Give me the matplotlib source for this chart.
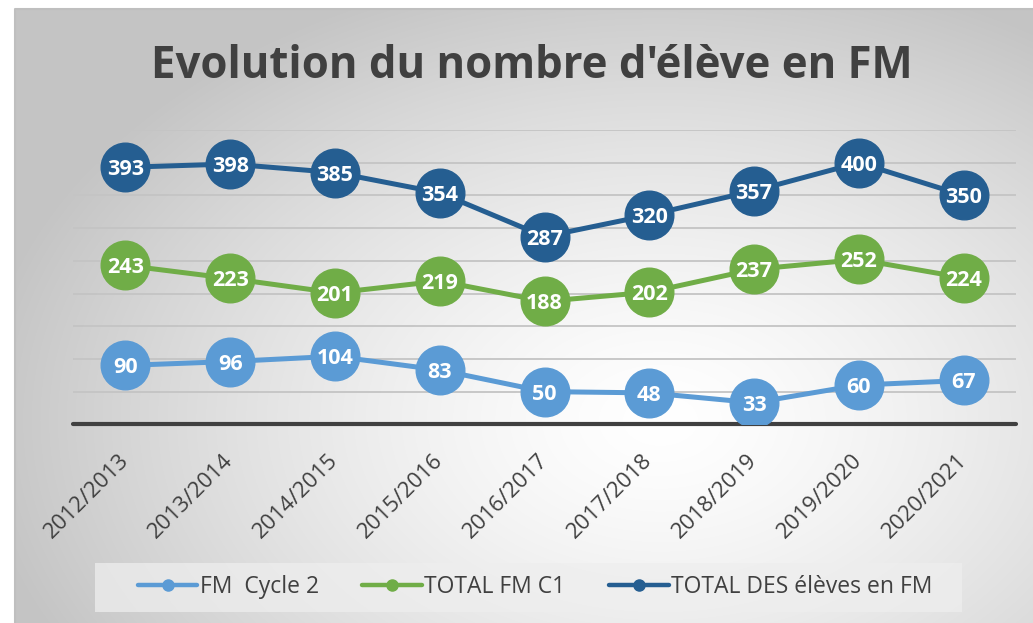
import numpy as np
import matplotlib
matplotlib.use("Agg")
import matplotlib.pyplot as plt
from matplotlib.lines import Line2D
from matplotlib.patches import Rectangle

plt.rcParams['font.family'] = ['Open Sans', 'DejaVu Sans']

# data
years = ['2012/2013', '2013/2014', '2014/2015', '2015/2016', '2016/2017',
         '2017/2018', '2018/2019', '2019/2020', '2020/2021']
fm_cycle2 = [90, 96, 104, 83, 50, 48, 33, 60, 67]
total_fm_c1 = [243, 223, 201, 219, 188, 202, 237, 252, 224]
total_eleves = [393, 398, 385, 354, 287, 320, 357, 400, 350]

series = [
    ('FM  Cycle 2', fm_cycle2, '#5b9bd5'),
    ('TOTAL FM C1', total_fm_c1, '#70ad47'),
    ('TOTAL DES élèves en FM', total_eleves, '#255e91'),
]

W, H = 1033, 623
fig = plt.figure(figsize=(W / 100, H / 100), dpi=100)
fig.patch.set_facecolor('white')

# background with radial gradient
bg = fig.add_axes([0, 0, 1, 1], zorder=-5)
bg.set_xlim(0, W)
bg.set_ylim(H, 0)
bg.axis('off')
xx, yy = np.meshgrid(np.arange(W), np.arange(H))
r = np.sqrt(((xx - 660) / 620.0) ** 2 + ((yy - 420) / 420.0) ** 2)
shade = np.clip(1 - 0.2 * r ** 1.4, 0.77, 1.0)
img = np.dstack([shade, shade, shade])
img[:9, :, :] = 1.0
img[:, :15, :] = 1.0
bg.imshow(img, extent=(0, W, H, 0), aspect='auto', interpolation='bilinear')
bg.plot([15, 15, W], [H, 9, 9], color='#bfbfbf', lw=1.5)

# legend box
bg.add_patch(Rectangle((95, 563), 867, 49, facecolor='#eeeeee', alpha=0.75,
                       edgecolor='none'))

# title
fig.text(532 / W, 1 - 66 / H, "Evolution du nombre d'élève en FM", ha='center', va='center',
         fontsize=31.5, fontweight='bold', color='#404040')

ax = fig.add_axes([73 / W, 1 - 424.3 / H, (1016 - 73) / W, (424.3 - 130) / H])
ax.set_facecolor('none')
x = np.arange(len(years))
for name, vals, col in series:
    ax.plot(x, vals, color=col, lw=3.6, marker='o', markersize=35, zorder=3,
            solid_capstyle='round')
    for xi, v in zip(x, vals):
        ax.text(xi, v, str(v), ha='center', va='center_baseline', color='white',
                fontsize=15.5, fontweight='bold', zorder=4)

ax.set_xlim(-0.5, len(years) - 0.5)
ax.set_ylim(0, 450)
ax.set_yticks(range(0, 451, 50))
ax.yaxis.grid(True, color='#c4c4c4', lw=1.3)
ax.set_axisbelow(True)
ax.tick_params(axis='y', length=0, labelleft=False)
ax.tick_params(axis='x', length=0, pad=24)
ax.set_xticks(x)
ax.set_xticklabels(years, rotation=45, ha='right', va='center',
                   rotation_mode='anchor', fontsize=16, color='#404040')
for s in ['top', 'right', 'left']:
    ax.spines[s].set_visible(False)
ax.spines['bottom'].set_color('#404040')
ax.spines['bottom'].set_linewidth(3)
ax.spines['bottom'].set_capstyle('round')

handles = [Line2D([], [], color=col, lw=3.2, marker='o', markersize=8,
                  solid_capstyle='round') for _, _, col in series]
fig.legend(handles, [s[0] for s in series], loc='center',
           bbox_to_anchor=(535 / W, 1 - 587 / H), ncol=3, frameon=False,
           fontsize=16.5, handlelength=2.6, handletextpad=0.1,
           columnspacing=1.9, labelcolor='#404040')

fig.savefig('out.png', dpi=100)
